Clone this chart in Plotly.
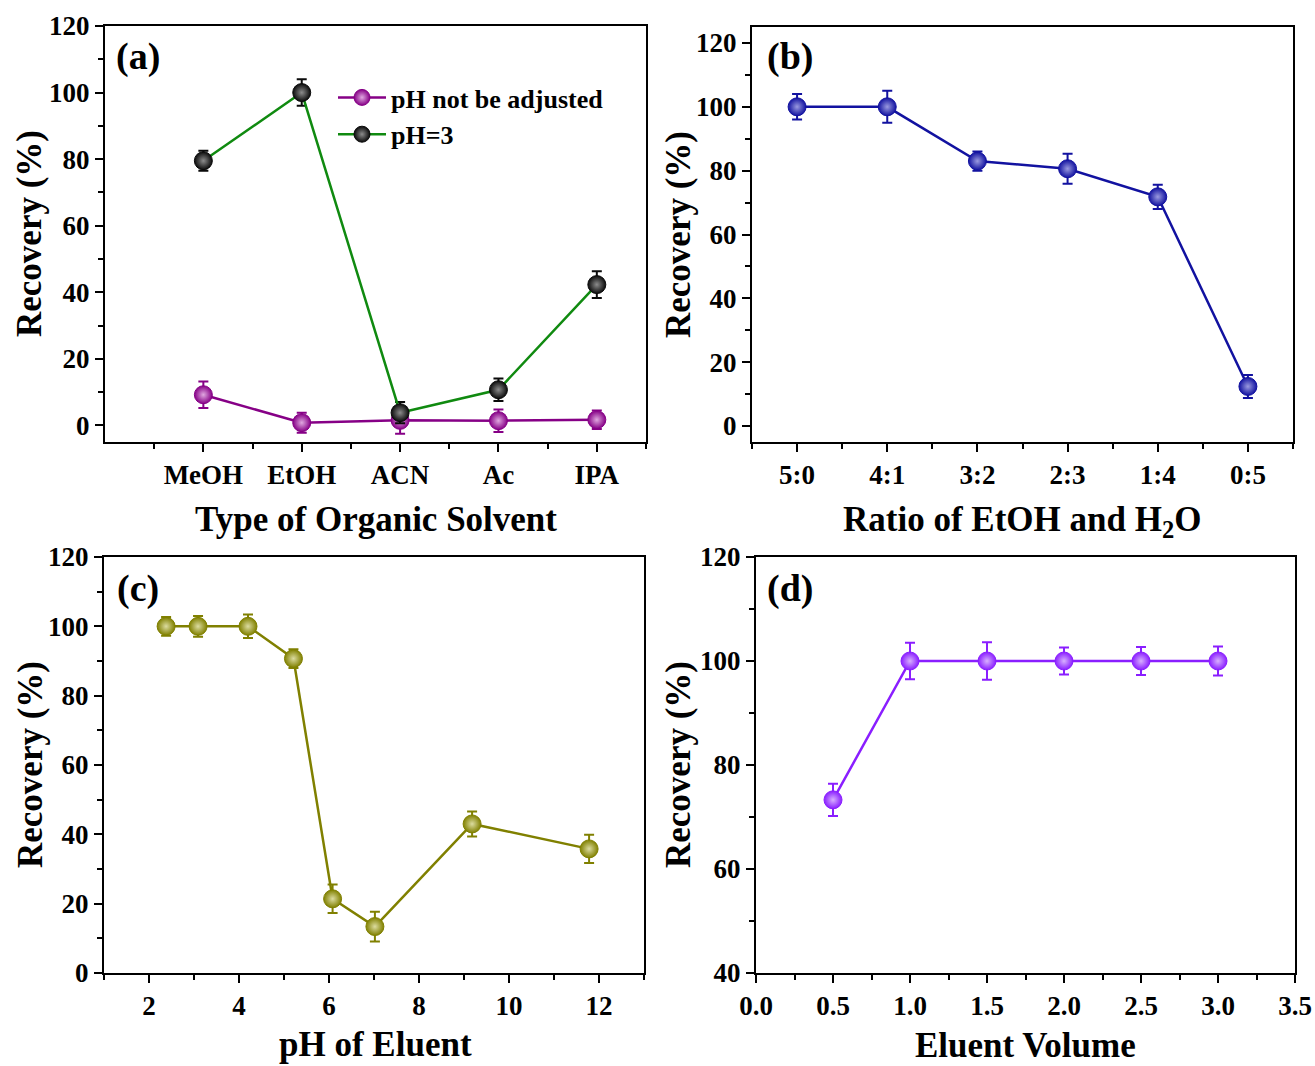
import plotly.graph_objects as go

# ---------------- data ----------------
solvents = ["MeOH", "EtOH", "ACN", "Ac", "IPA"]
a_nopH = [9.2, 0.8, 1.5, 1.4, 1.7]
a_nopH_err = [4.0, 3.0, 4.0, 3.4, 2.8]
a_pH3 = [79.5, 100.0, 3.8, 10.7, 42.3]
a_pH3_err = [3.0, 4.0, 3.2, 3.4, 4.0]

ratios = ["5:0", "4:1", "3:2", "2:3", "1:4", "0:5"]
b_rec = [100.0, 100.0, 83.0, 80.6, 71.8, 12.4]
b_err = [4.0, 5.0, 3.0, 4.7, 3.8, 3.6]

c_ph = [2.38, 3.09, 4.2, 5.21, 6.08, 7.02, 9.18, 11.78]
c_rec = [100.0, 100.0, 100.0, 90.7, 21.4, 13.4, 43.0, 35.8]
c_err = [2.7, 3.0, 3.4, 2.7, 4.1, 4.3, 3.6, 4.1]

d_vol = [0.5, 1.0, 1.5, 2.0, 2.5, 3.0]
d_rec = [73.3, 100.0, 100.0, 100.0, 100.0, 100.0]
d_err = [3.1, 3.5, 3.6, 2.6, 2.7, 2.8]

# ---------------- styling ----------------
W, H = 1315, 1066
FONT = "Liberation Serif"
TICK = 27
TITLE = 35


def xd(l, r):
    return [l / W, r / W]


def yd(t, b):
    return [1 - b / H, 1 - t / H]


def trace(x, y, err, line_col, mark_col, hi_col, name, xa, ya, show=False):
    return go.Scatter(
        x=x, y=y, name=name, xaxis=xa, yaxis=ya, showlegend=show,
        mode="lines+markers",
        line=dict(color=line_col, width=2.5),
        marker=dict(size=18, color=mark_col, line=dict(color=mark_col, width=1),
                    gradient=dict(type="radial", color=hi_col)),
        error_y=dict(type="data", array=err, visible=True, color=mark_col,
                     thickness=2, width=5),
    )


fig = go.Figure()
fig.add_trace(trace(list(range(1, 6)), a_nopH, a_nopH_err, "#860086", "#860086", "#e0a8e0",
                    "pH not be adjusted", "x", "y", True))
fig.add_trace(trace(list(range(1, 6)), a_pH3, a_pH3_err, "#108a10", "#0a0a0a", "#8c8c8c",
                    "pH=3", "x", "y", True))
fig.add_trace(trace(list(range(1, 7)), b_rec, b_err, "#1212a0", "#1212a0", "#9a9ae0",
                    "b", "x2", "y2"))
fig.add_trace(trace(c_ph, c_rec, c_err, "#808000", "#808000", "#dcdca0",
                    "c", "x3", "y3"))
fig.add_trace(trace(d_vol, d_rec, d_err, "#8a1eff", "#8a1eff", "#d8b0ff",
                    "d", "x4", "y4"))

base = dict(showline=True, linewidth=2, linecolor="black", mirror=True,
            ticks="outside", ticklen=8, tickwidth=2, tickcolor="black",
            showgrid=False, zeroline=False, automargin=False,
            tickfont=dict(family=FONT, size=TICK, color="black", weight="bold"))


def minor(vals):
    return dict(tickvals=vals, ticks="outside", ticklen=5, tickwidth=2,
                tickcolor="black", showgrid=False)


fig.update_layout(
    width=W, height=H, autosize=False,
    margin=dict(l=0, r=0, t=0, b=0, pad=0),
    paper_bgcolor="white", plot_bgcolor="white",
    font=dict(family=FONT, color="black"),
    xaxis=dict(base, domain=xd(105, 646), range=[0, 5.5],
               tickvals=[1, 2, 3, 4, 5], ticktext=solvents,
               minor=minor([0.5, 1.5, 2.5, 3.5, 4.5, 5.5]), anchor="y"),
    yaxis=dict(base, domain=yd(26, 442), range=[-5, 120],
               tickvals=[0, 20, 40, 60, 80, 100, 120],
               minor=minor([10, 30, 50, 70, 90, 110]), anchor="x"),
    xaxis2=dict(base, domain=xd(752, 1293), range=[0.5, 6.5],
                tickvals=list(range(1, 7)), ticktext=ratios,
                minor=minor([0.5, 1.5, 2.5, 3.5, 4.5, 5.5, 6.5]), anchor="y2"),
    yaxis2=dict(base, domain=yd(27, 442), range=[-5, 125],
                tickvals=[0, 20, 40, 60, 80, 100, 120],
                minor=minor([10, 30, 50, 70, 90, 110]), anchor="x2"),
    xaxis3=dict(base, domain=xd(104, 644), range=[1, 13],
                tickvals=[2, 4, 6, 8, 10, 12],
                minor=minor([1, 3, 5, 7, 9, 11, 13]), anchor="y3"),
    yaxis3=dict(base, domain=yd(557, 973), range=[0, 120],
                tickvals=[0, 20, 40, 60, 80, 100, 120],
                minor=minor([10, 30, 50, 70, 90, 110]), anchor="x3"),
    xaxis4=dict(base, domain=xd(756, 1295), range=[0, 3.5],
                tickvals=[0, 0.5, 1, 1.5, 2, 2.5, 3, 3.5], tickformat=".1f",
                minor=minor([0.25, 0.75, 1.25, 1.75, 2.25, 2.75, 3.25]), anchor="y4"),
    yaxis4=dict(base, domain=yd(557, 973), range=[40, 120],
                tickvals=[40, 60, 80, 100, 120],
                minor=minor([50, 70, 90, 110]), anchor="x4"),
    legend=dict(x=333 / W, y=1 - 74 / H, xanchor="left", yanchor="top",
                bgcolor="rgba(0,0,0,0)", tracegroupgap=0, itemwidth=48,
                font=dict(family=FONT, size=26, color="black", weight="bold")),
)


def ann(text, x, y, size, angle=0):
    fig.add_annotation(text=text, x=x / W, y=1 - y / H, xref="paper", yref="paper",
                       showarrow=False, textangle=angle, xanchor="center", yanchor="middle",
                       font=dict(family=FONT, size=size, color="black", weight="bold"))


# axis titles
ann("Type of Organic Solvent", 376, 519, TITLE)
ann("Ratio of EtOH and H<sub>2</sub>O", 1022, 521, TITLE)
ann("pH of Eluent", 375, 1044, TITLE)
ann("Eluent Volume", 1025, 1045, TITLE)
for xx, yy in [(30, 234), (678, 235), (30, 765), (678, 765)]:
    ann("Recovery (%)", xx, yy, TITLE, -90)

# panel labels
ann("(a)", 138, 57, 38)
ann("(b)", 790, 57, 38)
ann("(c)", 138, 588, 38)
ann("(d)", 790, 588, 38)

fig.write_html(
    "out.html",
    config={"displayModeBar": False},
    post_script="document.body.style.margin='0px';document.body.style.overflow='hidden';",
)
